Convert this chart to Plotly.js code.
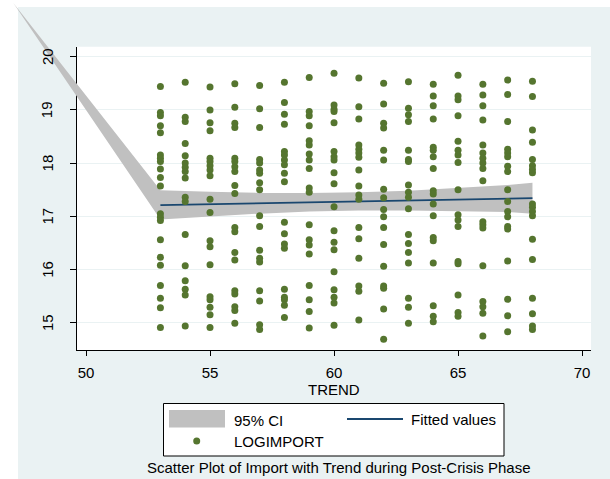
<!DOCTYPE html>
<html><head><meta charset="utf-8">
<script src="https://cdn.plot.ly/plotly-3.0.1.min.js"></script>
<style>html,body{margin:0;padding:0;background:#fff}#chart{width:610px;height:479px}</style>
</head><body><div id="chart"></div>
<script>
// ---- data ----
const trendValues = [53,54,55,56,57,58,59,60,61,62,63,64,65,66,67,68];
const logImport53 = [19.44,18.95,18.89,18.70,18.57,18.15,18.09,18.03,17.89,17.73,17.57,17.05,16.98,16.92,16.56,16.23,16.08,15.70,15.46,15.28,14.91];
const logImport54 = [19.52,18.86,18.78,18.37,18.14,18.00,17.92,17.84,17.72,17.36,17.28,16.66,16.07,15.79,15.63,15.52,14.94];
const logImport55 = [19.43,19.00,18.76,18.61,18.09,18.03,17.95,17.87,17.76,17.32,17.07,16.54,16.43,16.09,15.49,15.43,15.29,15.15,14.91];
const logImport56 = [19.49,19.05,18.75,18.67,18.09,18.03,17.93,17.84,17.58,17.43,16.79,16.71,16.32,16.18,15.60,15.54,15.30,15.23,14.99];
const logImport57 = [19.46,19.02,18.67,18.07,18.00,17.87,17.81,17.63,17.50,17.01,16.81,16.36,16.21,16.14,15.60,15.41,14.96,14.87];
const logImport58 = [19.52,19.14,18.92,18.73,18.22,18.15,18.06,17.97,17.81,17.65,16.89,16.67,16.48,16.40,15.63,15.48,15.43,15.33,15.10];
const logImport59 = [19.61,18.97,18.89,18.70,18.42,18.34,18.17,18.06,17.90,17.53,17.45,16.84,16.56,16.46,16.29,15.70,15.43,15.21,14.90];
const logImport60 = [19.69,19.09,19.01,18.97,18.76,18.22,18.12,18.06,17.82,17.61,17.18,16.73,16.51,16.37,15.96,15.62,15.48,15.37,14.95];
const logImport61 = [19.60,19.06,18.83,18.34,18.26,18.19,18.11,17.87,17.57,17.40,17.32,16.79,16.58,16.21,15.69,15.59,15.05];
const logImport62 = [19.50,19.11,18.75,18.66,18.24,18.06,17.51,17.35,17.13,16.99,16.79,16.47,16.06,15.69,15.65,15.26,14.69];
const logImport63 = [19.53,19.03,18.91,18.78,18.24,18.07,18.03,17.59,17.45,17.36,17.14,16.66,16.49,16.32,16.12,15.46,15.29,14.99];
const logImport64 = [19.48,19.26,19.08,18.83,18.30,18.24,18.12,17.90,17.48,17.42,17.23,17.01,16.60,16.54,16.12,15.32,15.12,15.02];
const logImport65 = [19.65,19.26,19.19,18.89,18.41,18.24,18.15,18.01,17.50,17.03,16.93,16.81,16.15,16.11,15.52,15.19,15.12];
const logImport66 = [19.48,19.28,19.08,18.81,18.34,18.19,18.09,18.00,17.90,17.67,16.90,16.84,16.78,16.07,15.40,15.30,15.18,14.75];
const logImport67 = [19.56,19.29,18.78,18.26,18.19,18.12,17.94,17.84,17.50,17.28,17.09,16.99,16.81,16.76,16.16,15.44,15.13,14.83];
const logImport68 = [19.54,19.25,18.62,18.39,18.07,17.95,17.88,17.82,17.23,17.17,17.09,17.01,16.57,16.19,15.46,15.17,14.94,14.87];
const logImportByTrend = [logImport53,logImport54,logImport55,logImport56,logImport57,logImport58,logImport59,logImport60,
  logImport61,logImport62,logImport63,logImport64,logImport65,logImport66,logImport67,logImport68];

const fitTrend = [53, 68];
const fitValues = [17.21, 17.34];

const ciTrend = [47.07, 53, 55, 57, 59, 61, 63, 65, 67, 68];
const ciUpper = [21.01, 17.49, 17.46, 17.44, 17.44, 17.45, 17.48, 17.53, 17.59, 17.63];
const ciLower = [21.01, 16.94, 16.99, 17.05, 17.09, 17.11, 17.11, 17.10, 17.08, 17.05];

const xTickVals = [50, 55, 60, 65, 70];
const yTickVals = [15, 16, 17, 18, 19, 20];

const legendLabels = ['95% CI', 'Fitted values', 'LOGIMPORT'];
const xTitle = 'TREND';
const noteText = 'Scatter Plot of Import with Trend during Post-Crisis Phase';

// ---- geometry ----
const W = 610, H = 479;
const plotL = 76.7, plotR = 591, plotT = 46.7, plotB = 350;
const xRange = [49.625, 70.36], yRange = [14.487, 20.188];
const xDom = [plotL / W, plotR / W], yDom = [1 - plotB / H, 1 - plotT / H];
const xppu = (plotR - plotL) / (xRange[1] - xRange[0]);
const yppu = (plotB - plotT) / (yRange[1] - yRange[0]);
const x2Range = [xRange[0] - plotL / xppu, xRange[1] + (W - plotR) / xppu];
const y2Range = [yRange[0] - (H - plotB) / yppu, yRange[1] + plotT / yppu];
const PX = p => p / W, PY = p => 1 - p / H;

const FONT = 'Liberation Sans, Arial, Helvetica, sans-serif';
const GREEN = '#55752f', NAVY = '#1a476f', CIGREY = '#c0c0c0', BG = '#eaf2f3';

// flatten scatter
const sx = [], sy = [];
trendValues.forEach((t, i) => logImportByTrend[i].forEach(v => { sx.push(t); sy.push(v); }));

const ciX = ciTrend.concat(ciTrend.slice().reverse());
const ciY = ciUpper.concat(ciLower.slice().reverse());

const traces = [
  // empty trace so that the axis frame subplot (x, y) is created
  {type: 'scatter', mode: 'markers', x: [], y: [], xaxis: 'x', yaxis: 'y', showlegend: false, hoverinfo: 'skip'},
  {type: 'scatter', mode: 'lines', x: ciX, y: ciY, fill: 'toself', fillcolor: CIGREY,
   line: {width: 0, color: CIGREY}, xaxis: 'x2', yaxis: 'y2', name: legendLabels[0], showlegend: false, hoverinfo: 'skip'},
  {type: 'scatter', mode: 'lines', x: fitTrend, y: fitValues, line: {color: NAVY, width: 1.8},
   xaxis: 'x2', yaxis: 'y2', name: legendLabels[1], showlegend: false},
  {type: 'scatter', mode: 'markers', x: sx, y: sy, marker: {color: GREEN, size: 7, line: {width: 0}},
   xaxis: 'x2', yaxis: 'y2', name: legendLabels[2], showlegend: false}
];

const shapes = [
  {type: 'rect', xref: 'paper', yref: 'paper', x0: PX(18), x1: 1, y0: 0, y1: PY(7), fillcolor: BG, line: {width: 0}, layer: 'below'},
  {type: 'rect', xref: 'paper', yref: 'paper', x0: xDom[0], x1: xDom[1], y0: yDom[0], y1: yDom[1], fillcolor: '#ffffff', line: {width: 0}, layer: 'below'},
  {type: 'rect', xref: 'paper', yref: 'paper', x0: PX(163.5), x1: PX(504), y0: PY(456), y1: PY(403.5), fillcolor: '#ffffff', line: {width: 1, color: '#000'}, layer: 'below'},
  {type: 'rect', xref: 'paper', yref: 'paper', x0: PX(169), x1: PX(225), y0: PY(427.5), y1: PY(410), fillcolor: CIGREY, line: {width: 0}, layer: 'below'},
  {type: 'line', xref: 'paper', yref: 'paper', x0: PX(347), x1: PX(403), y0: PY(419), y1: PY(419), line: {width: 1.8, color: NAVY}, layer: 'below'},
  {type: 'circle', xref: 'paper', yref: 'paper', x0: PX(193.2), x1: PX(200.2), y0: PY(444.5), y1: PY(437.5), fillcolor: GREEN, line: {width: 0}, layer: 'below'}
];

const annFont = {family: FONT, size: 15, color: '#000'};
const annotations = [
  {xref: 'paper', yref: 'paper', x: PX(232), y: PY(420), xanchor: 'left', yanchor: 'middle', text: legendLabels[0], showarrow: false, font: annFont},
  {xref: 'paper', yref: 'paper', x: PX(409), y: PY(419), xanchor: 'left', yanchor: 'middle', text: legendLabels[1], showarrow: false, font: annFont},
  {xref: 'paper', yref: 'paper', x: PX(232), y: PY(441), xanchor: 'left', yanchor: 'middle', text: legendLabels[2], showarrow: false, font: annFont},
  {xref: 'paper', yref: 'paper', x: PX(339.3), y: PY(467), xanchor: 'center', yanchor: 'middle', text: noteText, showarrow: false, font: annFont}
].concat(
  // y tick labels: drawn on top of the CI band (as in the reference), positioned with the y axis scale
  yTickVals.map(v => ({xref: 'paper', yref: 'y', x: PX(47.3), y: v, xanchor: 'center', yanchor: 'middle',
    text: String(v), textangle: -90, showarrow: false, font: annFont}))
);

const layout = {
  width: W, height: H,
  margin: {l: 0, r: 0, t: 0, b: 0, pad: 0},
  paper_bgcolor: '#ffffff', plot_bgcolor: 'rgba(0,0,0,0)',
  font: {family: FONT, size: 15, color: '#000'},
  showlegend: false,
  xaxis: {domain: xDom, anchor: 'y', range: xRange, tickvals: xTickVals, ticktext: xTickVals.map(String),
    ticks: 'outside', ticklen: 5, tickwidth: 1, tickcolor: '#000', showline: true, linecolor: '#000', linewidth: 1,
    showgrid: false, zeroline: false, tickfont: {family: FONT, size: 15, color: '#000'}, ticklabelstandoff: 4,
    title: {text: xTitle, font: {family: FONT, size: 15, color: '#000'}, standoff: 0}, fixedrange: true},
  yaxis: {domain: yDom, anchor: 'x', range: yRange, tickvals: yTickVals, showticklabels: false,
    ticks: 'outside', ticklen: 6, tickwidth: 1, tickcolor: '#000', showline: true, linecolor: '#000', linewidth: 1,
    showgrid: true, gridcolor: BG, gridwidth: 1, zeroline: false, fixedrange: true},
  xaxis2: {domain: [0, 1], anchor: 'y2', range: x2Range, visible: false, fixedrange: true},
  yaxis2: {domain: [0, 1], anchor: 'x2', range: y2Range, visible: false, fixedrange: true},
  shapes: shapes,
  annotations: annotations
};

Plotly.newPlot('chart', traces, layout, {displayModeBar: false, staticPlot: true});
</script>
</body></html>
